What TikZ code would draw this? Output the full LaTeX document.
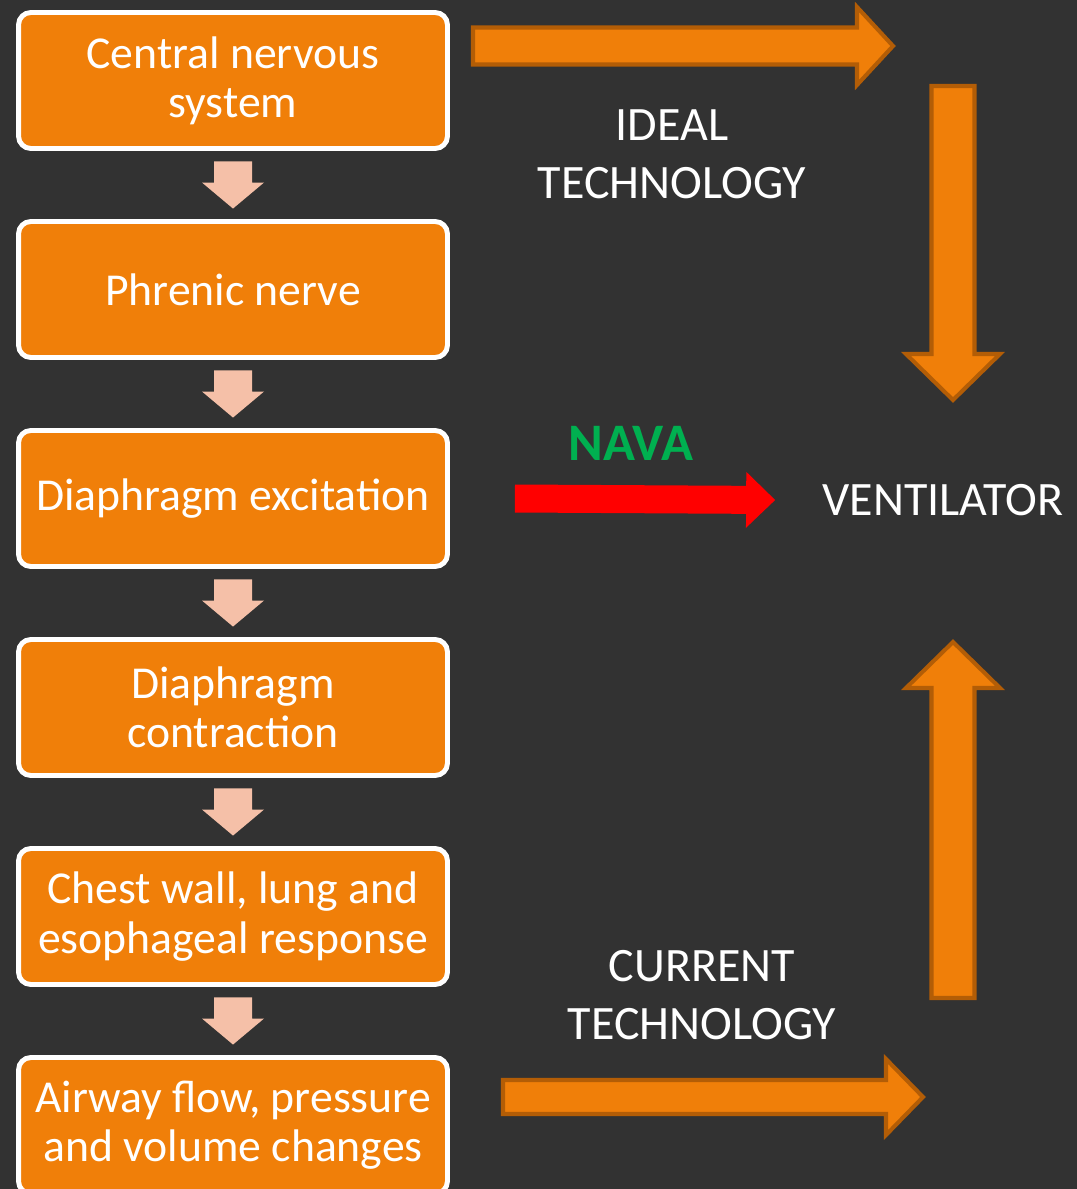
\documentclass[tikz,border=0pt]{standalone}
\usepackage{fontspec}
\setmainfont{Carlito}
\usetikzlibrary{calc}
\definecolor{bgdark}{HTML}{323232}
\definecolor{boxorange}{HTML}{F07F09}
\definecolor{edgeorange}{HTML}{B35D06}
\definecolor{peach}{HTML}{F5C0A8}
\definecolor{navagreen}{HTML}{00B050}
% #1 style, #2 from, #3 to, #4 shaft half width, #5 head half width, #6 head length
\newcommand{\blockarrow}[6]{%
  \coordinate (hb) at ($(#3)!#6*0.02cm!(#2)$);
  \path[#1] ($(#2)!#4*0.02cm!90:(#3)$) -- ($(hb)!#4*0.02cm!90:(#3)$)
    -- ($(hb)!#5*0.02cm!90:(#3)$) -- (#3) -- ($(hb)!#5*0.02cm!-90:(#3)$)
    -- ($(hb)!#4*0.02cm!-90:(#3)$) -- ($(#2)!#4*0.02cm!-90:(#3)$) -- cycle;}
\begin{document}
\begin{tikzpicture}[x=0.02cm,y=-0.02cm,
    box/.style={rectangle,rounded corners=7pt,draw=white,line width=2.8pt,
                fill=boxorange,text=white,align=center,inner sep=0pt,
                minimum width=8.58cm,minimum height=2.72cm,
                font=\fontsize{26}{28}\selectfont},
    label/.style={text=white,align=center,inner sep=0pt,
                  font=\fontsize{27.3}{33}\selectfont},
    small/.style={fill=peach},
    big/.style={fill=boxorange,draw=edgeorange,line width=2.3pt},
    nava/.style={fill=red}]
    \useasboundingbox (0,0) rectangle (1077,1189);
    \fill [bgdark] (0,0) rectangle (1077,1189);
    \node [box] (cns) at (233,80.5) {Central nervous\\system};
    \node [box] (phrenic) at (233,289.5) {Phrenic nerve};
    \node [box] (excit) at (233,498.5) {Diaphragm excitation};
    \node [box] (contr) at (233,707.5) {Diaphragm\\contraction};
    \node [box] (chest) at (233,916.5) {Chest wall, lung and\\esophageal response};
    \node [box] (airway) at (233,1125.5) {Airway flow, pressure\\and volume changes};
    \node [label] (ideal) at (672,154) {IDEAL\\TECHNOLOGY};
    \node [label] (current) at (702,995) {CURRENT\\TECHNOLOGY};
    \node [label] (vent) at (943,500) {VENTILATOR};
    \node [label,text=navagreen,font=\bfseries\fontsize{30}{33}\selectfont] (navatext) at (631,443) {NAVA};
    \foreach \a/\b in {cns/phrenic,phrenic/excit,excit/contr,contr/chest,chest/airway}{
        \coordinate (s) at ($(\a.south)+(0,10.5)$);
        \coordinate (t) at ($(\b.north)+(0,-10.5)$);
        \blockarrow{small}{s}{t}{19}{31}{26}
    }
    \coordinate (ideal1) at (473,46);
    \coordinate (ideal2) at (893,46);
    \coordinate (ideal3) at (953,86);
    \coordinate (ideal4) at (953,400);
    \coordinate (current1) at (503,1097);
    \coordinate (current2) at (923,1097);
    \coordinate (current3) at (953,998);
    \coordinate (current4) at (953,642);
    \coordinate (nava1) at ($(excit.east)+(65,0)$);
    \coordinate (nava2) at ($(vent.west)+(-47,0)$);
    \blockarrow{big}{ideal1}{ideal2}{18.5}{39}{36}
    \blockarrow{big}{ideal3}{ideal4}{21.5}{47}{46}
    \blockarrow{big}{current1}{current2}{17}{38}{37}
    \blockarrow{big}{current3}{current4}{21.5}{47}{46}
    \blockarrow{nava}{nava1}{nava2}{14}{28}{29}
\end{tikzpicture}
\end{document}
